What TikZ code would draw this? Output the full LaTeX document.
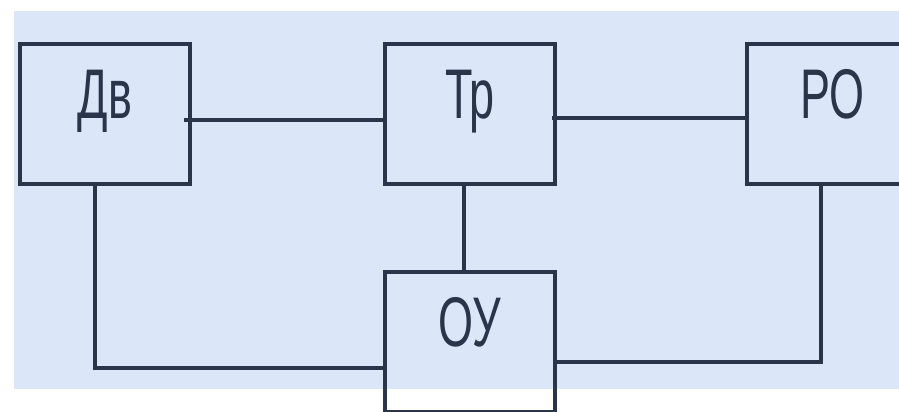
\documentclass[tikz,border=0pt]{standalone}
\usepackage{fontspec}
\newfontfamily\blockfont[FakeStretch=0.64]{Liberation Sans}
\definecolor{panel}{HTML}{DCE6F9}
\definecolor{wire}{HTML}{2A344A}
\tikzset{
  block/.style={draw=wire, line width=2pt, minimum width=3.4cm,
    inner xsep=0pt, inner ysep=0pt, text height=1.5cm, text depth=1.3cm,
    font=\blockfont\fontsize{40}{40}\selectfont, text=wire},
  link/.style={draw=wire, line width=2pt}
}

\begin{document}
\begin{tikzpicture}
    \useasboundingbox (0,0) rectangle (17.98,8.24);
    \clip (0,0) rectangle (17.98,8.24);
    \fill[panel] (0.28,0.46) rectangle (17.98,8.02);
    % blocks
    \node[block] (dv) at (2.1,5.96) {Дв};
    \node[block] (tr) at (9.4,5.96) {Тр};
    \node[block] (ro) at (16.64,5.96) {РО};
    \node[block] (ou) at (9.4,1.4) {ОУ};
    % links
    \draw[link] ([shift={(-0.16,-0.12)}]dv.east) -- ([yshift=-0.12cm]tr.west);
    \draw[link] ([shift={(-0.1,-0.08)}]tr.east) -- ([yshift=-0.08cm]ro.west);
    \draw[link] ([xshift=-0.12cm]tr.south) -- ([xshift=-0.12cm]ou.north);
    \draw[link] ([xshift=-0.2cm]dv.south) |- ([yshift=-0.52cm]ou.west);
    \draw[link] ([xshift=-0.22cm]ro.south) |- ([yshift=-0.4cm]ou.east);
\end{tikzpicture}
\end{document}
